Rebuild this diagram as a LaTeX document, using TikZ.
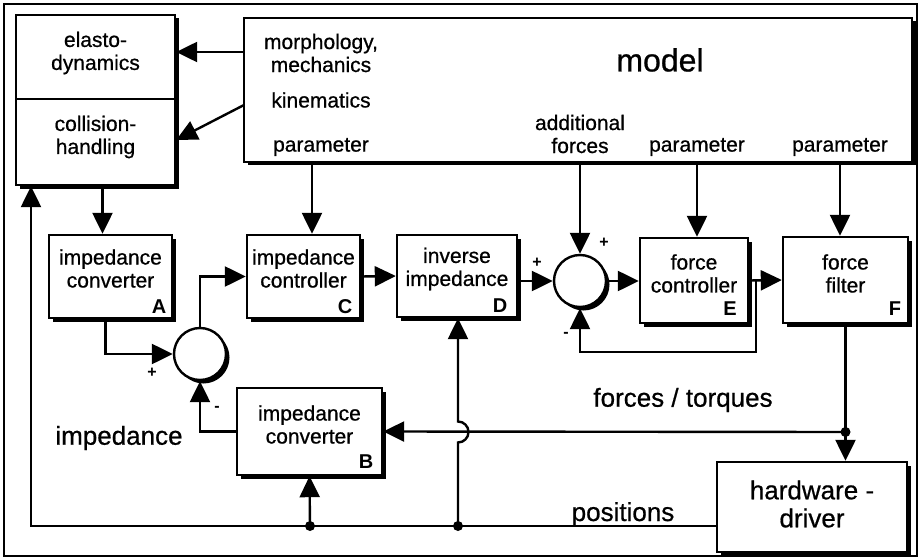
\documentclass[tikz,border=0pt]{standalone}
\usepackage{fontspec}
\setmainfont{Liberation Sans}
\newfontfamily\medium{Liberation Sans}[FakeBold=0.7]
\usetikzlibrary{arrows.meta,shadows}
\begin{document}
\begin{tikzpicture}[x=1pt,y=-1pt,
  shade3/.style={drop shadow={shadow xshift=3.5pt,shadow yshift=-3.5pt,fill=black,opacity=1}},
  box/.style={draw,line width=2.4pt,fill=white,inner sep=0pt,shade3},
  part/.style={draw,line width=2.4pt,inner sep=0pt},
  sum/.style={circle,draw,line width=2.4pt,fill=white,minimum size=52pt,inner sep=0pt,shade3},
  txt/.style={align=center,font=\fontsize{21}{23}\selectfont\medium,inner sep=0pt},
  big/.style={font=\fontsize{26}{28}\selectfont\medium,inner sep=0pt},
  tag/.style={font=\fontsize{20}{22}\selectfont\bfseries,inner sep=0pt},
  sign/.style={font=\fontsize{16}{16}\selectfont\bfseries,inner sep=0pt},
  wire/.style={line width=2.4pt},
  arr/.style={wire,-{Triangle[length=21pt,width=20pt]}},
  dot/.style={circle,fill=black,minimum size=10pt,inner sep=0pt},
]
\useasboundingbox (0,0) rectangle (921,559);
% outer frame
\draw[line width=1.1pt] (4,4) rectangle (917,556);

% ---- elastodynamics / collision block
\node[box,minimum width=159pt,minimum height=170pt] (dyn) at (95.5,100) {};
\node[part,minimum width=159pt,minimum height=84pt] (ela) at (95.5,57) {};
\node[part,minimum width=159pt,minimum height=86pt] (coll) at (95.5,142) {};
\node[txt] (elat) at (95.5,53) {elasto-\\dynamics};
\node[txt] (collt) at (95.5,137) {collision-\\handling};

% ---- model block
\node[box,minimum width=668pt,minimum height=144pt] (model) at (578,90) {};
\node[txt] (morph) at (321,53) {morphology,\\mechanics};
\node[txt] (kin) at (321,100) {kinematics};
\node[txt] (par1) at (321,147) {parameter};
\node[font=\fontsize{32}{34}\selectfont\medium,inner sep=0pt] (modt) at (660,60) {model};
\node[txt] (addf) at (580,134) {additional\\forces};
\node[txt] (par2) at (697,147) {parameter};
\node[txt] (par3) at (840,147) {parameter};

% ---- controller chain
\node[box,minimum width=123pt,minimum height=83pt] (A) at (110.5,276.5) {};
\node[txt] (At) at (110.5,268.5) {impedance\\converter};
\node[tag] (Al) at (159,307) {A};

\node[box,minimum width=113pt,minimum height=83pt] (C) at (303.5,276.5) {};
\node[txt] (Ct) at (303.5,268.5) {impedance\\controller};
\node[tag] (Cl) at (345,307) {C};

\node[box,minimum width=120pt,minimum height=82pt] (D) at (457,276) {};
\node[txt] (Dt) at (457,269) {inverse\\impedance};
\node[tag] (Dl) at (500,306) {D};

\node[box,minimum width=108pt,minimum height=85pt] (E) at (694,280.5) {};
\node[txt] (Et) at (694,273.5) {force\\controller};
\node[tag] (El) at (730,309) {E};

\node[box,minimum width=125pt,minimum height=86pt] (F) at (845.5,280) {};
\node[txt] (Ft) at (845.5,273.5) {force\\filter};
\node[tag] (Fl) at (895,309) {F};

\node[box,minimum width=145pt,minimum height=87pt] (B) at (309.5,431.5) {};
\node[txt] (Bt) at (309.5,424.5) {impedance\\converter};
\node[tag] (Bl) at (366,462) {B};

\node[box,minimum width=190pt,minimum height=90pt] (HW) at (812,507) {};
\node[txt,font=\fontsize{26}{28}\selectfont\medium] (HWt) at (812,504) {hardware -\\driver};

\node[sum] (S1) at (200,354) {};
\node[sum] (S2) at (580,281) {};

% ---- free labels
\node[big] (imp) at (119,438) {impedance};
\node[big] (ft) at (683,400) {forces / torques};
\node[big,anchor=base] (pos) at (623,521) {positions};
\node[sign] (s1p) at (152,373) {+};
\node[sign] (s1m) at (217,409) {-};
\node[sign] (s2pa) at (537,263) {+};
\node[sign] (s2pb) at (604,243) {+};
\node[sign] (s2m) at (566,335) {-};

% ---- junctions
\node[dot] (p1) at (310,526) {};
\node[dot] (p2) at (458,526) {};
\node[dot] (f1) at (845.5,432) {};
\coordinate (corner) at (31,526);
\coordinate (m1) at (312,162);
\coordinate (m2) at (580,162);
\coordinate (m3) at (697,162);
\coordinate (m4) at (840,162);
\coordinate (m5) at (244,52);
\coordinate (m6) at (244,105);
\coordinate (fb) at (756,280.5);
\coordinate (fbc) at (756,352);

% ---- model outputs
\draw[arr] (m5) -- (m5 -| dyn.east);
\draw[arr] (m6) -- ([yshift=2pt]coll.east);
\draw[arr] (m1) -- (m1 |- C.north);
\draw[arr] (m2) -- (S2.north);
\draw[arr] (m3) -- (m3 |- E.north);
\draw[arr] (m4) -- (m4 |- F.north);

% ---- forward path
\draw[arr] ([xshift=-8pt]A.north |- dyn.south) -- ([xshift=-8pt]A.north);
\draw[arr] ([xshift=-5pt]A.south) -- ([xshift=-5pt]A.south |- S1.west) -- (S1.west);
\draw[arr] (S1.north) -- (S1.north |- C.west) -- (C.west);
\draw[arr] (C.east) -- (D.west);
\draw[arr] (D.east |- S2.west) -- (S2.west);
\draw[arr] (S2.east) -- (E.west |- S2.east);
\draw[arr] (E.east) -- (F.west);
\draw[arr] (fb) -- (fbc) -- (fbc -| S2.south) -- (S2.south);

% ---- force output to hardware and back to converter B
\draw[wire] (F.south) -- (f1.center);
\draw[arr] (f1.center) -- (f1 |- HW.north);
\draw[arr] (f1.center) -- (B.east);
\draw[arr] (B.west) -- (B.west -| S1.south) -- (S1.south);

% ---- position feedback
\draw[arr] (HW.west |- p2) -- (p2.center) -- (p1.center) -- (corner) -- (corner |- dyn.south);
\draw[arr] (p1.center) -- (B.south);
\draw[arr] (p2.center) -- (458,442.5) arc[start angle=90,end angle=-90,radius=10.5] -- (p2 |- D.south);
\end{tikzpicture}
\end{document}
